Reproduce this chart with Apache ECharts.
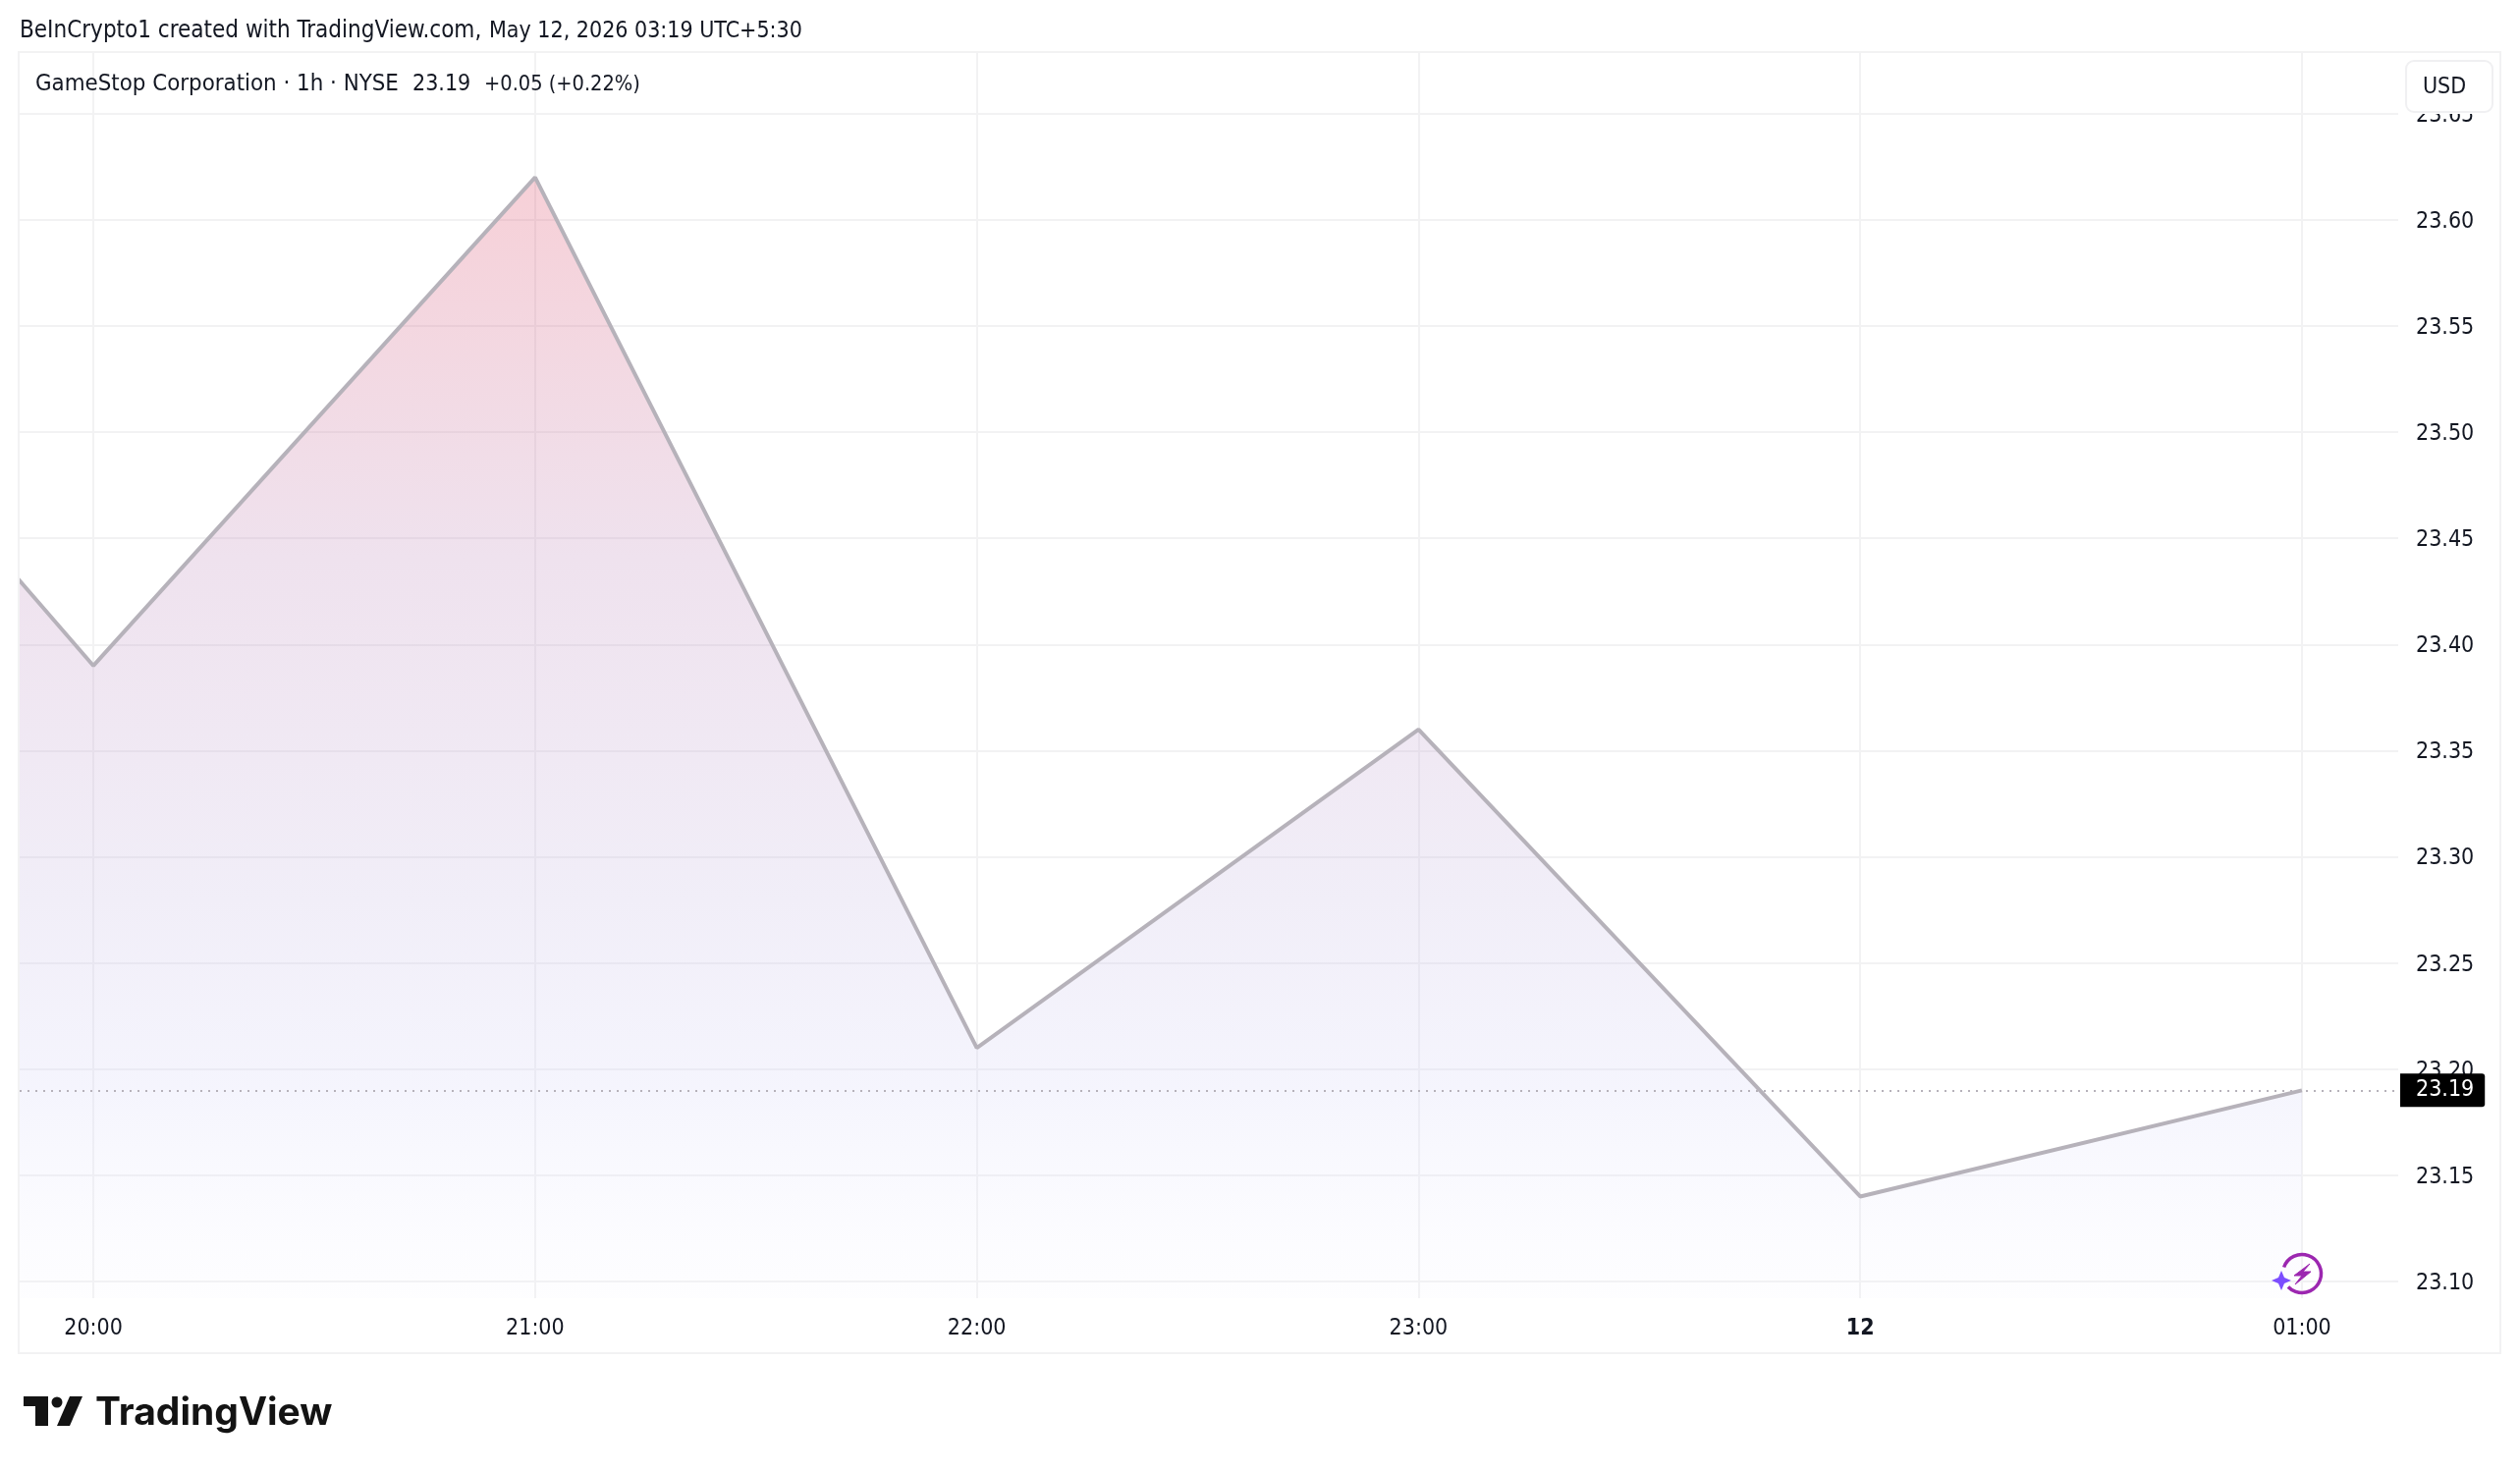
<!DOCTYPE html>
<html><head><meta charset="utf-8">
<style>html,body{margin:0;padding:0;background:#fff}#c{width:2566px;height:1498px}</style>
<script src="https://cdn.jsdelivr.net/npm/echarts@6/dist/echarts.min.js"></script>
</head><body><div id="c"></div>
<script>
const hours = [19, 20, 21, 22, 23, 24, 25];
const closes = [23.63, 23.39, 23.62, 23.21, 23.36, 23.14, 23.19];
const timeTickValues = [20, 21, 22, 23, 24, 25];
const timeTickLabels = ['20:00', '21:00', '22:00', '23:00', '12', '01:00'];
const priceTicks = [23.10, 23.15, 23.20, 23.25, 23.30, 23.35, 23.40, 23.45, 23.50, 23.55, 23.60, 23.65];
const lastPrice = 23.19;
const titleParts = ['BeInCrypto1 created with TradingView.com,', 'May 12, 2026 03:19 UTC+5:30'];
const legendParts = ['GameStop Corporation · 1h · NYSE', '23.19', '+0.05 (+0.22%)'];
const FONT = '"DejaVu Sans Condensed"';
const GRID = '#f2f2f3';
const chart = echarts.init(document.getElementById('c'), null, {renderer:'canvas', width:2566, height:1498});
chart.setOption({
  animation:false,
  backgroundColor:'#fff',
  grid:{left:20, right:124, top:54, height:1268, containLabel:false},
  xAxis:{type:'value', min:19.833, max:25.218,
    axisLine:{show:false},
    axisTick:{show:false, customValues:timeTickValues},
    axisLabel:{customValues:timeTickValues, margin:20, fontFamily:FONT, fontSize:23, color:'#131722',
      formatter:v=>{const s=timeTickLabels[timeTickValues.indexOf(v)];return s==='12'?'{b|12}':s;},
      rich:{b:{fontWeight:'bold',fontFamily:FONT,fontSize:23,color:'#131722'}}},
    splitLine:{show:true, lineStyle:{color:GRID,width:2}}},
  yAxis:{type:'value', position:'right', min:23.0921, max:23.6786,
    axisLine:{show:false},
    axisTick:{show:false, customValues:priceTicks},
    axisLabel:{customValues:priceTicks, margin:18, fontFamily:FONT, fontSize:23, color:'#131722',
      formatter:v=>'{p|'+v.toFixed(2)+'}',
      rich:{p:{fontFamily:FONT,fontSize:23,color:'#131722',padding:[4,0,0,0]}}},
    splitLine:{show:true, lineStyle:{color:GRID,width:2}}},
  series:[{type:'line', data:hours.map((h,i)=>[h,closes[i]]), showSymbol:false, symbol:'none', silent:true,
    lineStyle:{color:'#b6b2ba',width:4}, clip:true,
    areaStyle:{opacity:1,color:{type:'linear',x:0,y:0,x2:0,y2:1,colorStops:[
      {offset:0,color:'rgba(223,63,91,.25)'},{offset:.35,color:'rgba(191,139,187,.25)'},
      {offset:.65,color:'rgba(199,187,227,.25)'},{offset:.82,color:'rgba(215,215,248,.25)'},{offset:1,color:'rgba(240,240,255,.1)'}]}},
    markLine:{silent:true, symbol:'none', animation:false, data:[{yAxis:lastPrice}],
      lineStyle:{color:'#b6b2ba',type:[2,6],width:2},
      label:{show:true, position:'end', distance:2, formatter:()=>lastPrice.toFixed(2), fontFamily:FONT, fontSize:23,
        color:'#fff', backgroundColor:'#000', padding:[8,11,3,16], borderRadius:[0,3,3,0]}}
  }],
  graphic:[
    {type:'rect',z:50,shape:{x:2444,y:55,width:101,height:61},style:{fill:'#fff'}},
    {type:'rect',z:51,shape:{x:19,y:53,width:2527,height:1325},style:{fill:'none',stroke:GRID,lineWidth:2}},
    {type:'rect',z:52,shape:{x:2450,y:62,width:88,height:52,r:8},style:{fill:'#fff',stroke:'#f0f0f2',lineWidth:2}},
    {type:'text',z:53,x:2489,y:89,style:{text:'USD',fill:'#131722',font:'23px '+FONT,textAlign:'center',textVerticalAlign:'middle'}},
    {type:'text',z:53,x:20,y:32,style:{text:titleParts[0],fill:'#131722',font:'24px '+FONT,textVerticalAlign:'middle'}},
    {type:'text',z:53,x:498,y:32,style:{text:titleParts[1],fill:'#131722',font:'23px '+FONT,textVerticalAlign:'middle'}},
    {type:'text',z:53,x:36,y:86,style:{text:legendParts[0],fill:'#131722',font:'23.8px '+FONT,textVerticalAlign:'middle'}},
    {type:'text',z:53,x:420,y:86,style:{text:legendParts[1],fill:'#131722',font:'23px '+FONT,textVerticalAlign:'middle'}},
    {type:'text',z:53,x:493,y:86,style:{text:legendParts[2],fill:'#131722',font:'21.6px '+FONT,textVerticalAlign:'middle'}},
    // TradingView logo
    {type:'polygon',z:53,shape:{points:[[24,1422],[49,1422],[49,1452],[36,1452],[36,1432],[24,1432]]},style:{fill:'#131313'}},
    {type:'circle',z:53,shape:{cx:58,cy:1428,r:5.5},style:{fill:'#131313'}},
    {type:'polygon',z:53,shape:{points:[[71,1422],[84,1422],[71,1452],[58,1452]]},style:{fill:'#131313'}},
    {type:'text',z:53,x:97,y:1439,style:{text:'TradingView',fill:'#131313',font:'700 39px Inter',textVerticalAlign:'middle'}},
    // replay icon
    {type:'arc',z:53,shape:{cx:2344,cy:1297,r:19.5,startAngle:-2.8,endAngle:2.38,clockwise:true},style:{fill:'none',stroke:'#9c27b0',lineWidth:3.5}},
    {type:'polygon',z:53,shape:{points:[[2352,1287],[2336,1299],[2344,1299],[2337,1308],[2353,1295],[2345,1295]]},style:{fill:'#9c27b0',stroke:'#9c27b0',lineWidth:1}},
    {type:'polygon',z:53,shape:{points:[[2323,1294],[2326,1301],[2333,1304],[2326,1307],[2323,1314],[2320,1307],[2313,1304],[2320,1301]]},style:{fill:'#7c4dff'}}
  ]
});
</script></body></html>
